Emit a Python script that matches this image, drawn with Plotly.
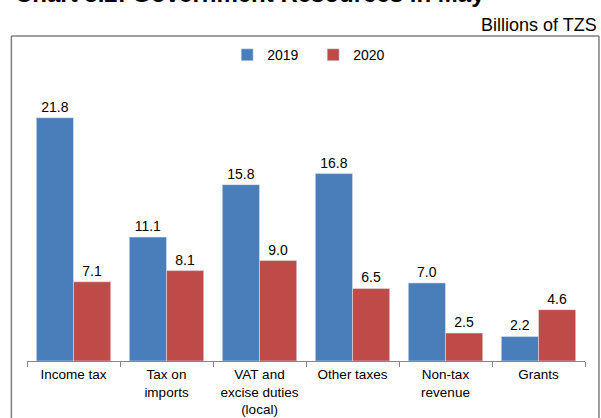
import plotly.graph_objects as go

categories = ["Income tax", "Tax on<br>imports", "VAT and<br>excise duties<br>(local)",
              "Other taxes", "Non-tax<br>revenue", "Grants"]
values_2019 = [21.8, 11.1, 15.8, 16.8, 7.0, 2.2]
values_2020 = [7.1, 8.1, 9.0, 6.5, 2.5, 4.6]

blue = "#4A7EBB"
red = "#BE4B48"
font_family = "Liberation Sans, Arial, sans-serif"

fig = go.Figure()
fig.add_trace(go.Bar(x=categories, y=values_2019, name="2019",
                     marker=dict(color=blue),
                     texttemplate="%{y:.1f}", textposition="outside",
                     textfont=dict(size=14, color="#000000"),
                     cliponaxis=False))
fig.add_trace(go.Bar(x=categories, y=values_2020, name="2020",
                     marker=dict(color=red),
                     texttemplate="%{y:.1f}", textposition="outside",
                     textfont=dict(size=14, color="#000000"),
                     cliponaxis=False))

# outer chart frame (left, top, right edges visible)
frame = dict(type="line", xref="paper", yref="paper", layer="above",
             line=dict(color="#7F7F7F", width=1.5))
fig.add_shape(**frame, x0=-0.028, x1=-0.028, y0=1.165, y1=-0.25)
fig.add_shape(**frame, x0=-0.028, x1=1.025, y0=1.165, y1=1.165)
fig.add_shape(**frame, x0=1.025, x1=1.025, y0=1.165, y1=-0.25)

fig.add_annotation(text="<b>Chart 3.2: Government Resources in May</b>",
                   xref="paper", yref="paper", x=-0.025, y=1.262,
                   xanchor="left", yanchor="bottom", showarrow=False,
                   font=dict(size=24, color="#000000"))
fig.add_annotation(text="Billions of TZS", xref="paper", yref="paper",
                   x=1.025, y=1.204, xanchor="right", yanchor="middle",
                   showarrow=False, font=dict(size=18, color="#000000"))

fig.update_layout(
    width=601, height=418,
    margin=dict(l=27, r=16, t=82, b=57, autoexpand=False),
    paper_bgcolor="white", plot_bgcolor="white",
    font=dict(family=font_family, size=14, color="#000000"),
    barmode="group", bargap=0.2, bargroupgap=0,
    showlegend=True,
    legend=dict(orientation="h", xref="container", yref="container",
                x=0.378, xanchor="left", y=0.868, yanchor="middle",
                entrywidth=41, font=dict(size=14), itemwidth=30),
    xaxis=dict(showline=True, linecolor="#868686", linewidth=1.2,
               ticks="outside", tickson="boundaries", ticklen=5,
               tickcolor="#868686", tickfont=dict(size=13.5),
               ticklabelstandoff=1,
               showgrid=False, zeroline=False),
    yaxis=dict(range=[0, 25], visible=False, showgrid=False),
)

fig.write_html("out.html", config={"displayModeBar": False},
               post_script="document.body.style.margin='0';")
